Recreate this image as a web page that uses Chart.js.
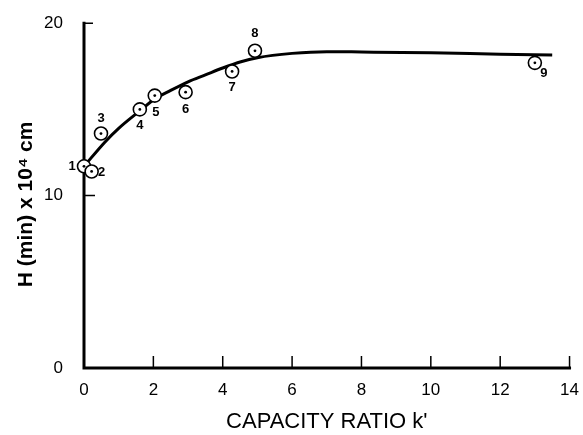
<!DOCTYPE html>
<html>
<head>
<meta charset="utf-8">
<script src="https://cdn.jsdelivr.net/npm/chart.js@4.4.0/dist/chart.umd.min.js"></script>
<style>
  html, body { margin: 0; padding: 0; background: #fff; }
  #wrap { width: 583px; height: 435px; }
</style>
</head>
<body>
<div id="wrap"><canvas id="chart"></canvas></div>
<script>
// measured points (k', H)
const pointLabels = ['1', '2', '3', '4', '5', '6', '7', '8', '9'];
const pointK = [0, 0.22, 0.49, 1.61, 2.04, 2.93, 4.27, 4.93, 13.0];
const pointH = [11.7, 11.4, 13.6, 15.0, 15.8, 16.0, 17.2, 18.4, 17.7];

// fitted curve
const curveK = [0, 0.6, 1.0, 1.6, 2.0, 2.5, 3.0, 3.5, 4.0, 4.5, 5.0, 6.0, 7.0, 8.0, 10.0, 12.0, 13.5];
const curveH = [11.7, 13.1, 13.9, 14.9, 15.55, 16.1, 16.6, 17.0, 17.4, 17.75, 18.0, 18.25, 18.35, 18.33, 18.28, 18.2, 18.15];

const xTicks = [0, 2, 4, 6, 8, 10, 12, 14];
const yTicks = [0, 10, 20];

// where each number sits relative to its marker
const labelOffsets = [[-12, 0], [10, 1], [0, -15], [0, 16], [1, 17], [0, 17], [0, 16], [0, -17], [9, 11]];

const points = pointK.map((k, i) => ({x: k, y: pointH[i]}));
const curve = curveK.map((k, i) => ({x: k, y: curveH[i]}));

// axis lines plus the short tick marks pointing into the plot
const axesAndTicks = {
    id: 'axesAndTicks',
    beforeDatasetsDraw(chart) {
        const ctx = chart.ctx;
        const xs = chart.scales.x, ys = chart.scales.y;
        ctx.save();
        ctx.strokeStyle = '#000';
        ctx.lineWidth = 3;
        ctx.lineCap = 'square';
        ctx.beginPath();
        ctx.moveTo(xs.left, ys.top);
        ctx.lineTo(xs.left, ys.bottom);
        ctx.lineTo(xs.right, ys.bottom);
        ctx.stroke();
        ctx.lineWidth = 1.5;
        ctx.lineCap = 'butt';
        ctx.beginPath();
        xTicks.slice(1).forEach(v => {
            const px = xs.getPixelForValue(v);
            ctx.moveTo(px, ys.bottom);
            ctx.lineTo(px, ys.bottom - 12);
        });
        yTicks.slice(1).forEach(v => {
            const py = ys.getPixelForValue(v);
            ctx.moveTo(xs.left, py);
            ctx.lineTo(xs.left + (v === 20 ? 9 : 11), py);
        });
        ctx.stroke();
        ctx.restore();
    }
};

const numberLabels = {
    id: 'numberLabels',
    afterDatasetsDraw(chart) {
        const ctx = chart.ctx;
        const meta = chart.getDatasetMeta(1);
        ctx.save();
        ctx.fillStyle = '#000';
        ctx.font = 'bold 13px "Liberation Sans Narrow", "Liberation Sans", sans-serif';
        ctx.textAlign = 'center';
        ctx.textBaseline = 'middle';
        meta.data.forEach((el, i) => {
            const off = labelOffsets[i];
            ctx.fillText(pointLabels[i], el.x + off[0], el.y + off[1]);
        });
        ctx.restore();
    }
};

new Chart(document.getElementById('chart'), {
    type: 'scatter',
    data: {
        datasets: [
            {
                // centre dots (drawn on top)
                data: points,
                pointRadius: 1.4,
                pointBorderWidth: 0,
                pointBackgroundColor: '#000',
                clip: false
            },
            {
                data: points,
                pointRadius: 6.5,
                pointBorderWidth: 1.6,
                pointBorderColor: '#000',
                pointBackgroundColor: '#fff',
                clip: false
            },
            {
                type: 'line',
                data: curve,
                borderColor: '#000',
                borderWidth: 3,
                pointRadius: 0,
                cubicInterpolationMode: 'monotone',
                fill: false,
                clip: false
            }
        ]
    },
    options: {
        responsive: true,
        maintainAspectRatio: false,
        animation: false,
        layout: { padding: { top: 22, right: 12, left: 0, bottom: 0 } },
        plugins: { legend: { display: false }, tooltip: { enabled: false } },
        scales: {
            x: {
                type: 'linear',
                min: 0,
                max: 14,
                afterBuildTicks: s => { s.ticks = xTicks.map(v => ({value: v})); },
                afterFit: s => { s.height = 67; },
                grid: { display: false },
                border: { display: false },
                ticks: {
                    color: '#000',
                    padding: 4,
                    maxRotation: 0,
                    font: { family: '"Liberation Sans", sans-serif', size: 17 }
                },
                title: {
                    display: true,
                    text: "CAPACITY RATIO k'",
                    color: '#000',
                    padding: { top: 2, bottom: 0 },
                    font: { family: '"Liberation Sans", sans-serif', size: 22 }
                }
            },
            y: {
                type: 'linear',
                min: 0,
                max: 20,
                afterBuildTicks: s => { s.ticks = yTicks.map(v => ({value: v})); },
                afterFit: s => { s.width = 84; },
                grid: { display: false },
                border: { display: false },
                ticks: {
                    color: '#000',
                    padding: 13,
                    font: { family: '"Liberation Sans", sans-serif', size: 17 }
                },
                title: {
                    display: true,
                    text: 'H (min) x 10\u2074 cm   ',
                    color: '#000',
                    padding: { top: 14, bottom: 0 },
                    font: { family: '"Liberation Sans", sans-serif', size: 21, weight: 'bold' }
                }
            }
        }
    },
    plugins: [axesAndTicks, numberLabels]
});
</script>
</body>
</html>
